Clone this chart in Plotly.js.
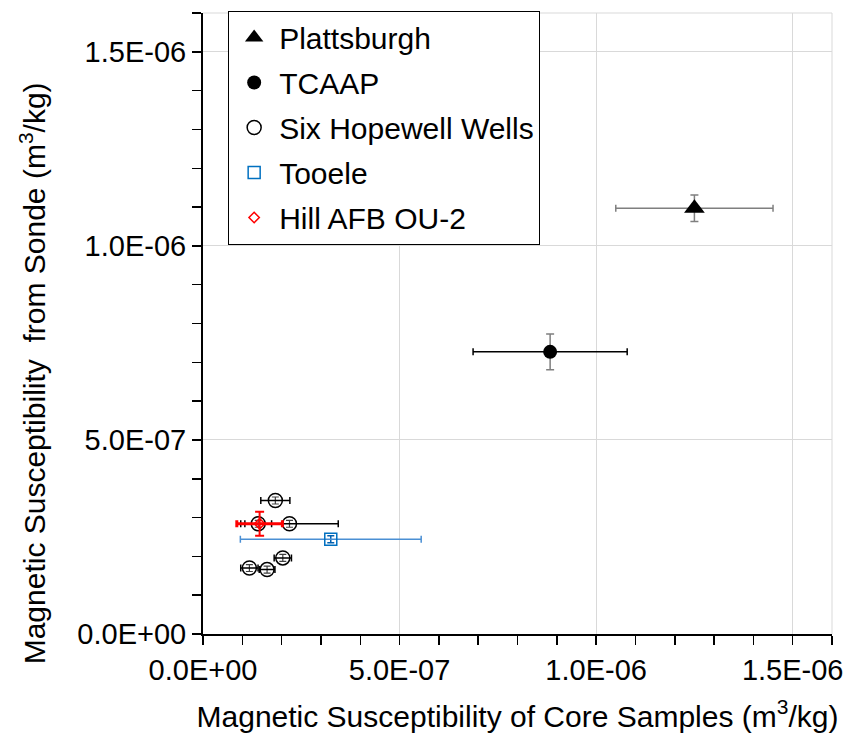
<!DOCTYPE html>
<html>
<head>
<meta charset="utf-8">
<script src="https://cdn.plot.ly/plotly-3.0.1.min.js"></script>
<style>html,body{margin:0;padding:0;background:#fff;}#chart{width:848px;height:737px;}</style>
</head>
<body>
<div id="chart"></div>
<script>
// ---- data (m^3/kg) ----
const seriesNames = ["Plattsburgh", "TCAAP", "Six Hopewell Wells", "Tooele", "Hill AFB OU-2"];

const plattX = [1.250e-6];
const plattY = [1.097e-6];
const plattXErr = [2.0e-7];
const plattYErr = [3.4e-8];

const tcaapX = [8.83e-7];
const tcaapY = [7.27e-7];
const tcaapXErr = [1.96e-7];
const tcaapYErr = [4.6e-8];

const sixX = [1.84e-7, 1.405e-7, 2.20e-7, 2.03e-7, 1.18e-7, 1.63e-7];
const sixY = [3.44e-7, 2.84e-7, 2.84e-7, 1.96e-7, 1.70e-7, 1.66e-7];
const sixXErr = [3.7e-8, 3.4e-8, 1.24e-7, 2.2e-8, 2.2e-8, 2.0e-8];
const sixYErr = [9e-9, 9e-9, 9e-9, 9e-9, 9e-9, 9e-9];

const tooeleX = [3.25e-7];
const tooeleY = [2.44e-7];
const tooeleXErr = [2.3e-7];
const tooeleYErr = [9e-9];

const hillX = [1.44e-7];
const hillY = [2.84e-7];
const hillXErr = [5.8e-8];
const hillYErr = [3.1e-8];

const majorTicks = [0, 5e-7, 1e-6, 1.5e-6];
const majorLabels = ["0.0E+00", "5.0E-07", "1.0E-06", "1.5E-06"];
const minorTicks = [1e-7, 2e-7, 3e-7, 4e-7, 6e-7, 7e-7, 8e-7, 9e-7, 1.1e-6, 1.2e-6, 1.3e-6, 1.4e-6, 1.6e-6];

const xTitle = "Magnetic Susceptibility of Core Samples (m<sup>3</sup>/kg)";
const yTitle = "Magnetic Susceptibility  from Sonde (m<sup>3</sup>/kg)";

// ---- styling ----
const FONT = "Arial, 'Liberation Sans', sans-serif";
const GRAY = "#7f7f7f";
const GRID = "#d9d9d9";

function errs(arr, color, thick, w) {
  return {type: "data", array: arr, symmetric: true, color: color, thickness: thick, width: w, visible: true};
}

const traces = [
  {
    name: seriesNames[0], x: plattX, y: plattY, type: "scatter", mode: "markers", legendgroup: "g1",
    marker: {symbol: "triangle-up", size: 18, color: "#000000"},
    error_x: errs(plattXErr, GRAY, 1.5, 3.5),
    error_y: errs(plattYErr, GRAY, 1.5, 4)
  },
  {
    name: seriesNames[1], x: tcaapX, y: tcaapY, type: "scatter", mode: "markers", legendgroup: "g2",
    marker: {symbol: "circle", size: 14, color: "#000000"},
    error_x: errs(tcaapXErr, "#000000", 1.5, 3.5),
    error_y: errs(tcaapYErr, GRAY, 1.5, 4)
  },
  {
    name: seriesNames[2], x: sixX, y: sixY, type: "scatter", mode: "markers", legendgroup: "g3",
    marker: {symbol: "circle", size: 14, color: "rgba(255,255,255,0)", line: {color: "#000000", width: 1.5}},
    error_x: errs(sixXErr, "#000000", 1.5, 3.5),
    error_y: errs(sixYErr, "#404040", 1.2, 3.5)
  },
  {
    name: seriesNames[3], x: tooeleX, y: tooeleY, type: "scatter", mode: "markers", legendgroup: "g4",
    marker: {symbol: "square", size: 12, color: "rgba(255,255,255,0)", line: {color: "#0070C0", width: 1.5}},
    error_x: errs(tooeleXErr, "#4a8fd4", 1.5, 3.5),
    error_y: errs(tooeleYErr, "#0060b0", 1.5, 3.5)
  },
  {
    name: seriesNames[4], x: hillX, y: hillY, type: "scatter", mode: "markers", legendgroup: "g5",
    marker: {symbol: "diamond", size: 8, color: "rgba(255,255,255,0)", line: {color: "#ff0000", width: 1.5}},
    error_x: errs(hillXErr, "#ff0000", 3, 3.5),
    error_y: errs(hillYErr, "#ff0000", 2, 4.5)
  }
];

function axis(extra) {
  return Object.assign({
    range: [0, 1.6e-6],
    tickmode: "array", tickvals: majorTicks, ticktext: majorLabels,
    ticks: "outside", ticklen: 9, tickwidth: 1.5, tickcolor: "#000000",
    minor: {tickmode: "array", tickvals: minorTicks, ticks: "outside", ticklen: 9, tickwidth: 1.5, tickcolor: "#000000", showgrid: false},
    showgrid: true, gridcolor: GRID, gridwidth: 1,
    showline: true, linecolor: "#000000", linewidth: 2,
    zeroline: false,
    tickfont: {family: FONT, size: 29, color: "#000000"},
    fixedrange: true
  }, extra);
}

const layout = {
  width: 848, height: 737,
  margin: {l: 203, r: 16, t: 11, b: 103, pad: 0},
  paper_bgcolor: "#ffffff", plot_bgcolor: "#ffffff",
  font: {family: FONT, color: "#000000"},
  showlegend: true,
  legend: {
    x: 0.04, xanchor: "left", y: 1.004, yanchor: "top",
    bgcolor: "#ffffff", bordercolor: "#000000", borderwidth: 1,
    font: {family: FONT, size: 30, color: "#000000"},
    tracegroupgap: 3, itemsizing: "trace", itemwidth: 40
  },
  xaxis: axis({title: {text: xTitle, font: {family: FONT, size: 30, color: "#000000"}, standoff: 21}}),
  yaxis: axis({}),
  shapes: [
    {type: "line", xref: "paper", yref: "paper", x0: 0, x1: 1, y0: 1, y1: 1, line: {color: GRID, width: 1}, layer: "below"},
    {type: "line", xref: "paper", yref: "paper", x0: 1, x1: 1, y0: 0, y1: 1, line: {color: GRID, width: 1}, layer: "below"}
  ],
  annotations: [{
    text: yTitle, textangle: -90, xref: "paper", yref: "paper",
    x: -0.271, y: 0.419, xanchor: "center", yanchor: "middle",
    showarrow: false, font: {family: FONT, size: 30, color: "#000000"}
  }]
};

Plotly.newPlot("chart", traces, layout, {displayModeBar: false, staticPlot: true});
</script>
</body>
</html>
